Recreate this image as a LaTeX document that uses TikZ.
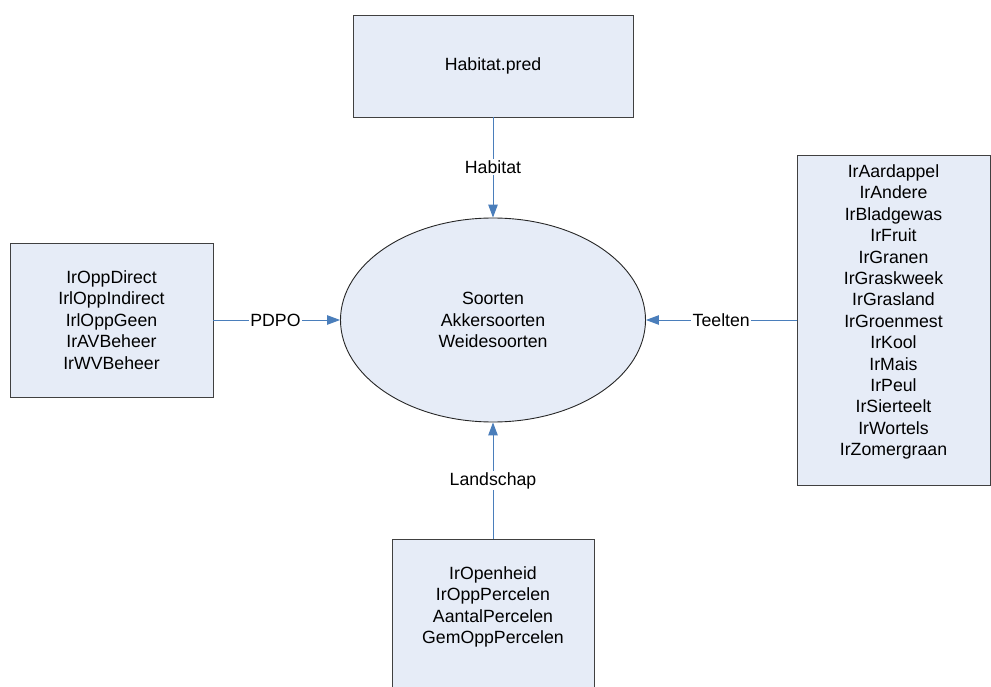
\documentclass[tikz,border=0pt]{standalone}
\usepackage{fontspec}
\setmainfont{Liberation Sans}
\usetikzlibrary{arrows.meta,shapes.geometric}
\definecolor{boxfill}{RGB}{230,236,247}
\definecolor{boxline}{RGB}{64,64,64}
\definecolor{conncol}{RGB}{74,126,187}
\tikzset{
  box/.style={draw=boxline, fill=boxfill, line width=0.9pt, rectangle, inner sep=0pt},
  ell/.style={draw=black!85, fill=boxfill, line width=0.9pt, ellipse, inner sep=0pt},
  txt/.style={align=center, font=\fontsize{17.7}{21.4}\selectfont, inner sep=0pt},
  conn/.style={draw=conncol, line width=1pt, -{Triangle[length=13pt,width=9.5pt]}},
  lbl/.style={fill=white, font=\fontsize{17.7}{21.4}\selectfont, inner sep=1.5pt}
}
\begin{document}
\begin{tikzpicture}[x=1pt,y=-1pt]
\useasboundingbox (0,0) rectangle (991,687);
\begin{scope}
\clip (0,0) rectangle (991,687);
\node[box, minimum width=280pt, minimum height=102pt] (top) at (493,66) {};
\node[txt] (toptxt) at (493,66) {Habitat.pred};
\node[ell, minimum width=305pt, minimum height=204pt] (soort) at (493,320) {};
\node[txt] (soorttxt) at (493,320) {Soorten\\Akkersoorten\\Weidesoorten};
\node[box, minimum width=203pt, minimum height=154pt] (left) at (111.5,320) {};
\node[txt] (lefttxt) at (111.5,320) {IrOppDirect\\IrlOppIndirect\\IrlOppGeen\\IrAVBeheer\\IrWVBeheer};
\node[box, minimum width=193pt, minimum height=330pt] (right) at (893.5,320) {};
\node[txt] (righttxt) at (893.5,312) {IrAardappel\\IrAndere\\IrBladgewas\\IrFruit\\IrGranen\\IrGraskweek\\IrGrasland\\IrGroenmest\\IrKool\\IrMais\\IrPeul\\IrSierteelt\\IrWortels\\IrZomergraan};
\node[box, minimum width=202pt, minimum height=170pt] (bot) at (493,624) {};
\node[txt] (bottxt) at (493,607) {IrOpenheid\\IrOppPercelen\\AantalPercelen\\GemOppPercelen};
\end{scope}
\draw[conn] (top.south) -- node[lbl]{Habitat} (soort.north);
\draw[conn] (left.east) -- node[lbl, pos=0.49]{PDPO} (soort.west);
\draw[conn] (right.west) -- node[lbl, pos=0.5]{Teelten} (soort.east);
\draw[conn] (bot.north) -- node[lbl]{Landschap} (soort.south);
\end{tikzpicture}
\end{document}
